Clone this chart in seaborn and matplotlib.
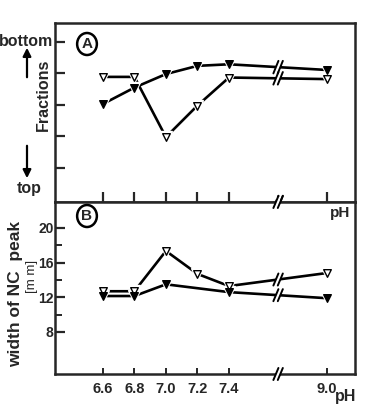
import matplotlib
matplotlib.use('Agg')
import matplotlib.pyplot as plt
import matplotlib.transforms as mtrans
from matplotlib.patches import Polygon, Circle, FancyArrowPatch
import numpy as np
import pandas as pd
import seaborn as sns

# pH values; the axis is broken between 7.4 and 9.0
ph_labels = ['6.6', '6.8', '7.0', '7.2', '7.4', '9.0']
ph_values = [6.6, 6.8, 7.0, 7.2, 7.4, 9.0]

# panel A: relative position of the peak in the gradient (1 = top ... 5 = bottom)
frac_open = [3.89, 3.89, 1.98, 2.98, 3.87, 3.82]
frac_filled = [3.03, 3.55, 3.98, 4.24, 4.29, 4.11]

# panel B: width of the NC peak [mm]
width_ph_open = [6.6, 6.8, 7.0, 7.2, 7.4, 9.0]
width_open = [12.7, 12.7, 17.35, 14.7, 13.3, 14.8]
width_ph_filled = [6.6, 6.8, 7.0, 7.4, 9.0]
width_filled = [12.15, 12.15, 13.5, 12.6, 11.9]

BREAK_POS = 5.56


def ph_to_pos(ph):
    # broken scale: 0.2 pH per step up to 7.4, then jump to 9.0
    ph = np.asarray(ph, dtype=float)
    return np.where(ph <= 7.45, (ph - 6.6) / 0.2, 7.1)


sns.set_style('ticks')
plt.rcParams['font.family'] = ['Liberation Sans', 'DejaVu Sans']
plt.rcParams['font.weight'] = 'bold'

fig = plt.figure(figsize=(3.65, 4.07), dpi=100)
W, H = 365, 407


def fx(px):
    return px / W


def fy(py):
    return 1 - py / H


axA = fig.add_axes([fx(55), fy(202), fx(300), (202 - 23) / H])
axB = fig.add_axes([fx(55), fy(374), fx(300), (374 - 202) / H])

line_kw = dict(color='black', linewidth=1.9)


def draw_series(ax, x, y, filled):
    df = pd.DataFrame({'pos': ph_to_pos(x), 'val': y})
    sns.lineplot(data=df, x='pos', y='val', ax=ax, sort=False, zorder=2, **line_kw)
    # white halo so the line stops short of the marker
    ax.plot(df['pos'], df['val'], linestyle='none', marker='v', markersize=8.5,
            color='white', zorder=3)
    sns.scatterplot(data=df, x='pos', y='val', ax=ax, marker='v', s=30,
                    color='black' if filled else 'white',
                    edgecolor='black', linewidth=1.0, zorder=4)


draw_series(axA, ph_values, frac_open, False)
draw_series(axA, ph_values, frac_filled, True)
draw_series(axB, width_ph_open, width_open, False)
draw_series(axB, width_ph_filled, width_filled, True)

for ax in (axA, axB):
    ax.set_xlim(-1.52, 8.0)
    ax.set_xlabel('')
    ax.set_ylabel('')
    for s in ax.spines.values():
        s.set_linewidth(1.8)
        s.set_visible(True)
        s.set_zorder(5)

# panel A axes
axA.set_ylim(-0.08, 5.6)
axA.set_yticks([1, 2, 3, 4, 5])
axA.set_yticklabels([])
axA.set_xticks(ph_to_pos(ph_values))
axA.set_xticklabels([])
axA.tick_params(direction='in', length=7, width=1.6, left=True, bottom=True)

# panel B axes
axB.set_ylim(3.15, 23.0)
axB.set_yticks([8, 12, 16, 20])
axB.set_yticks([10, 14, 18], minor=True)
axB.set_yticklabels(['8', '12', '16', '20'], fontsize=10, fontweight='bold')
axB.set_xticks(ph_to_pos(ph_values))
axB.set_xticklabels(ph_labels, fontsize=10.5, fontweight='bold')
axB.tick_params(axis='y', which='major', direction='in', length=7, width=1.6, pad=1)
axB.tick_params(axis='y', which='minor', direction='in', length=5, width=1.4, left=True)
axB.tick_params(axis='x', direction='in', length=4, width=1.4, pad=6)


def axis_break(ax, ys_axes, band=(-0.03, 1.03)):
    tr = mtrans.blended_transform_factory(ax.transData, ax.transAxes)
    dx, dy = 0.07, 0.035
    band_poly = Polygon([[BREAK_POS - dx, band[0]], [BREAK_POS + dx, band[0]],
                         [BREAK_POS + dx, band[1]], [BREAK_POS - dx, band[1]]],
                        closed=True, transform=tr, facecolor='white',
                        edgecolor='none', zorder=6, clip_on=False)
    ax.add_patch(band_poly)
    for yc in ys_axes:
        for off in (-dx, dx):
            ax.plot([BREAK_POS + off - 0.08, BREAK_POS + off + 0.08],
                    [yc - dy, yc + dy], color='black', linewidth=1.4,
                    transform=tr, zorder=7, clip_on=False)


def y_at_break(x, y, ax):
    pos = ph_to_pos(x)
    v = np.interp(BREAK_POS, pos, y)
    lo, hi = ax.get_ylim()
    return (v - lo) / (hi - lo)


axis_break(axA, [0.0, y_at_break(ph_values, frac_open, axA),
                 y_at_break(ph_values, frac_filled, axA)], band=(-0.02, 0.9))
axis_break(axB, [0.0, 1.0, y_at_break(width_ph_open, width_open, axB),
                 y_at_break(width_ph_filled, width_filled, axB)])

# panel letters
for ax, letter, py in ((axA, 'A', 44), (axB, 'B', 216)):
    fig.patches.append(Circle((fx(87), fy(py)), radius=11 / H, transform=fig.transFigure,
                              facecolor='none', edgecolor='black', linewidth=1.8))
    fig.text(fx(87), fy(py), letter, ha='center', va='center', fontsize=11,
             fontweight='bold')

# panel A labels
fig.text(fx(53), fy(42), 'bottom', ha='right', va='center', fontsize=11.5, fontweight='bold')
fig.text(fx(29), fy(189), 'top', ha='center', va='center', fontsize=11.5, fontweight='bold')
fig.text(fx(43), fy(95), 'Fractions', ha='center', va='center', rotation=90,
         fontsize=11.5, fontweight='bold')
for start, end in (((27, 80), (27, 45)), ((27, 143), (27, 181))):
    fig.add_artist(FancyArrowPatch((fx(start[0]), fy(start[1])), (fx(end[0]), fy(end[1])),
                                   transform=fig.transFigure, arrowstyle='-|>',
                                   mutation_scale=12, color='black', linewidth=1.6))
fig.text(fx(340), fy(213), 'pH', ha='center', va='center', fontsize=11, fontweight='bold')

# panel B labels
fig.text(fx(16), fy(294), 'width of NC  peak', ha='center', va='center', rotation=90,
         fontsize=12.5, fontweight='bold')
fig.text(fx(32), fy(276), '[m m]', ha='center', va='center', rotation=90,
         fontsize=9.5, fontweight='normal')
fig.text(fx(346), fy(397), 'pH', ha='center', va='center', fontsize=11.5, fontweight='bold')

fig.savefig('out.png', dpi=100)
